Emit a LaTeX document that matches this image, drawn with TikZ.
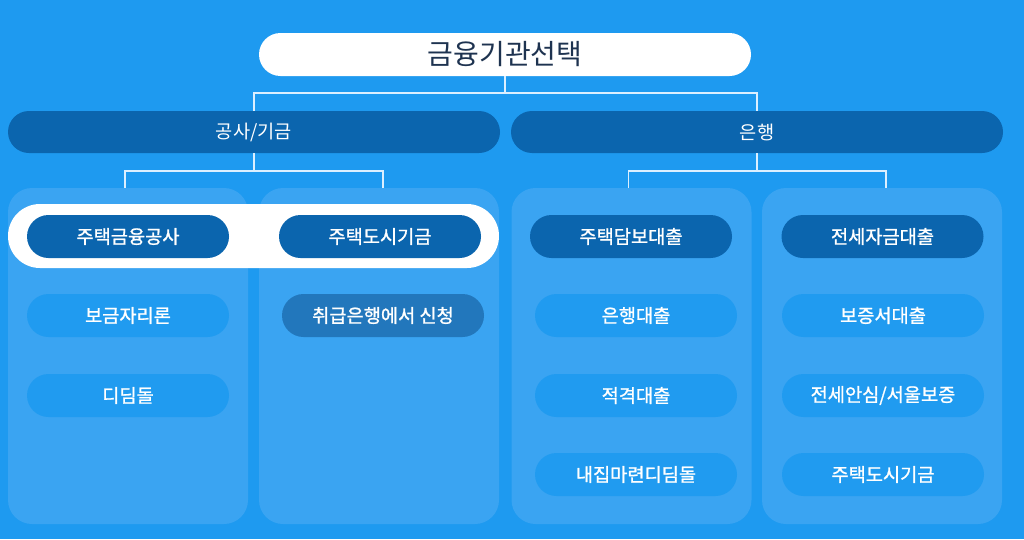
\documentclass[tikz,border=0pt]{standalone}
\usepackage{fontspec}
\setmainfont{Noto Sans CJK KR}
\newfontfamily\medfont[FakeBold=1.2]{Noto Sans CJK KR}
\usetikzlibrary{shapes.misc}
\definecolor{bgblue}{HTML}{1E9AF0}
\definecolor{panelblue}{HTML}{3AA4F2}
\definecolor{darkpill}{HTML}{0B65AE}
\definecolor{itempill}{HTML}{209BF0}
\definecolor{specpill}{HTML}{2277BC}
\definecolor{titletext}{HTML}{1E3350}
\definecolor{linecol}{HTML}{DCEFFF}
\tikzset{
  x=0.75pt, y=-0.75pt,
  pillbase/.style={rounded rectangle, inner sep=0pt, font=\medfont\fontsize{14pt}{16pt}\selectfont, text=white},
  toppill/.style={pillbase, fill=white, minimum width=369pt, minimum height=32.25pt, text=titletext, font=\fontsize{21pt}{25pt}\selectfont},
  levelpill/.style={pillbase, fill=darkpill, minimum width=369pt, minimum height=31.5pt, font=\fontsize{14pt}{16pt}\selectfont},
  headpill/.style={pillbase, fill=darkpill, minimum width=151.5pt, minimum height=32.25pt},
  itembox/.style={pillbase, fill=itempill, minimum width=151.5pt, minimum height=32.25pt},
  specbox/.style={pillbase, fill=specpill, minimum width=151.5pt, minimum height=32.25pt},
  panelbox/.style={rectangle, fill=panelblue, rounded corners=18pt, minimum width=180pt, minimum height=252pt, inner sep=0pt},
  glow/.style={rounded rectangle, fill=white, minimum width=368.25pt, minimum height=48pt, inner sep=0pt},
  conn/.style={draw=linecol, line width=1.3pt}
}
\begin{document}
\begin{tikzpicture}
\fill[bgblue] (0,0) rectangle (1024,539);
\useasboundingbox (0,0) rectangle (1024,539);
% panels
\node[panelbox] (p1) at (128,356) {};
\node[panelbox] (p2) at (379,356) {};
\node[panelbox] (p3) at (631.5,356) {};
\node[panelbox] (p4) at (882,356) {};
% highlight
\node[glow] (hl) at (253.5,236) {};
% top and level 2
\node[toppill] (top) at (505,54.5) {금융기관선택};
\node[levelpill] (la) at (254,132) {공사/기금};
\node[levelpill] (lb) at (757,132) {은행};
% headers
\node[headpill] (ha) at (128,236.5) {주택금융공사};
\node[headpill] (hb) at (380,236.5) {주택도시기금};
\node[headpill] (hc) at (631,236.5) {주택담보대출};
\node[headpill] (hd) at (882.5,236.5) {전세자금대출};
% items
\node[itembox] (a1) at (128,315.5) {보금자리론};
\node[itembox] (a2) at (128,395.5) {디딤돌};
\node[specbox] (b1) at (383,315.5) {취급은행에서 신청};
\node[itembox] (c1) at (636,315.5) {은행대출};
\node[itembox] (c2) at (636,395.5) {적격대출};
\node[itembox] (c3) at (636,474.5) {내집마련디딤돌};
\node[itembox] (d1) at (883,315.5) {보증서대출};
\node[itembox] (d2) at (883,395.5) {전세안심/서울보증};
\node[itembox] (d3) at (883,474.5) {주택도시기금};
% connectors
\coordinate (j0) at (505,93);
\coordinate (ja) at (254,171);
\coordinate (jb) at (757,171);
\draw[conn] (top.south) -- (j0);
\draw[conn] (la.north) |- (j0) -| (lb.north);
\draw[conn] (la.south) -- (ja);
\draw[conn] ([xshift=-2.25pt]p1.north) |- (ja) -| ([xshift=3pt]p2.north);
\draw[conn] (lb.south) -- (jb);
\draw[conn] ([xshift=-2.25pt]p3.north) |- (jb) -| ([xshift=3pt]p4.north);
\end{tikzpicture}
\end{document}
